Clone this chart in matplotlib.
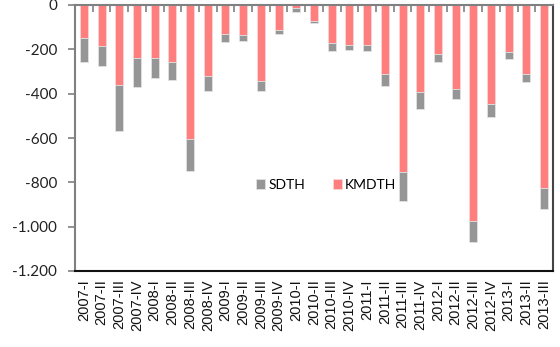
import matplotlib
matplotlib.use("Agg")
import matplotlib.pyplot as plt
from matplotlib.ticker import FixedLocator
import numpy as np

categories = ["2007-I", "2007-II", "2007-III", "2007-IV", "2008-I", "2008-II", "2008-III",
              "2008-IV", "2009-I", "2009-II", "2009-III", "2009-IV", "2010-I", "2010-II",
              "2010-III", "2010-IV", "2011-I", "2011-II", "2011-III", "2011-IV", "2012-I",
              "2012-II", "2012-III", "2012-IV", "2013-I", "2013-II", "2013-III"]
kmdth = [-147, -185, -361, -238, -238, -256, -606, -319, -129, -137, -341, -111, -15, -71,
         -173, -180, -179, -311, -753, -391, -221, -379, -974, -445, -211, -311, -824]
totals = [-256, -274, -568, -370, -328, -340, -750, -388, -165, -161, -388, -129, -33, -81,
          -207, -201, -207, -364, -883, -468, -256, -424, -1069, -504, -244, -346, -920]
sdth = [t - k for t, k in zip(totals, kmdth)]
yticks = [0, -200, -400, -600, -800, -1000, -1200]
ytick_labels = ["0", "-200", "-400", "-600", "-800", "-1.000", "-1.200"]

fig = plt.figure(figsize=(5.6, 3.47), dpi=100)
ax = fig.add_axes([75/560, 1-271/347, 478/560, 266/347])

x = np.arange(len(categories))
pink = "#FF7F7F"
grey = "#969696"
ax.bar(x, kmdth, width=0.45, color=pink, edgecolor="#f7dada", linewidth=0.5, label="KMDTH", zorder=2)
ax.bar(x, sdth, bottom=kmdth, width=0.45, color=grey, edgecolor="#e6e6e6", linewidth=0.5, label="SDTH", zorder=2)

ax.set_xlim(-0.5, len(categories) - 0.5)
ax.set_ylim(-1200, 0)
ax.set_yticks(yticks)
ax.set_yticklabels(ytick_labels, fontsize=11, color="#222222", family="Lato")
ax.tick_params(axis="y", direction="out", length=5, color="#808080", width=1.2, pad=8)

ax.set_xticks(x)
ax.set_xticklabels(categories, rotation=90, fontsize=10.5, family="Liberation Sans", color="#111111")
ax.tick_params(axis="x", which="major", length=0, pad=6)
ax.xaxis.set_minor_locator(FixedLocator(np.arange(0.5, len(categories) - 0.5, 1.0)))
ax.tick_params(axis="x", which="minor", top=True, bottom=False, direction="in", length=5,
               color="#808080", width=1.2)

for side in ["left", "top"]:
    ax.spines[side].set_color("#808080")
    ax.spines[side].set_linewidth(1.5)
ax.spines["bottom"].set_color("#111111")
ax.spines["bottom"].set_linewidth(1.5)
ax.spines["right"].set_color("#444444")
ax.spines["right"].set_linewidth(1.5)

handles, labels = ax.get_legend_handles_labels()
leg = ax.legend([handles[1], handles[0]], [labels[1], labels[0]], ncol=2, frameon=False,
                loc="center", bbox_to_anchor=(0.525, 0.323), handlelength=0.7, handleheight=0.7,
                handletextpad=0.2, columnspacing=2.0, prop={"family": "Lato", "size": 10})

fig.savefig("out.png", dpi=100)
